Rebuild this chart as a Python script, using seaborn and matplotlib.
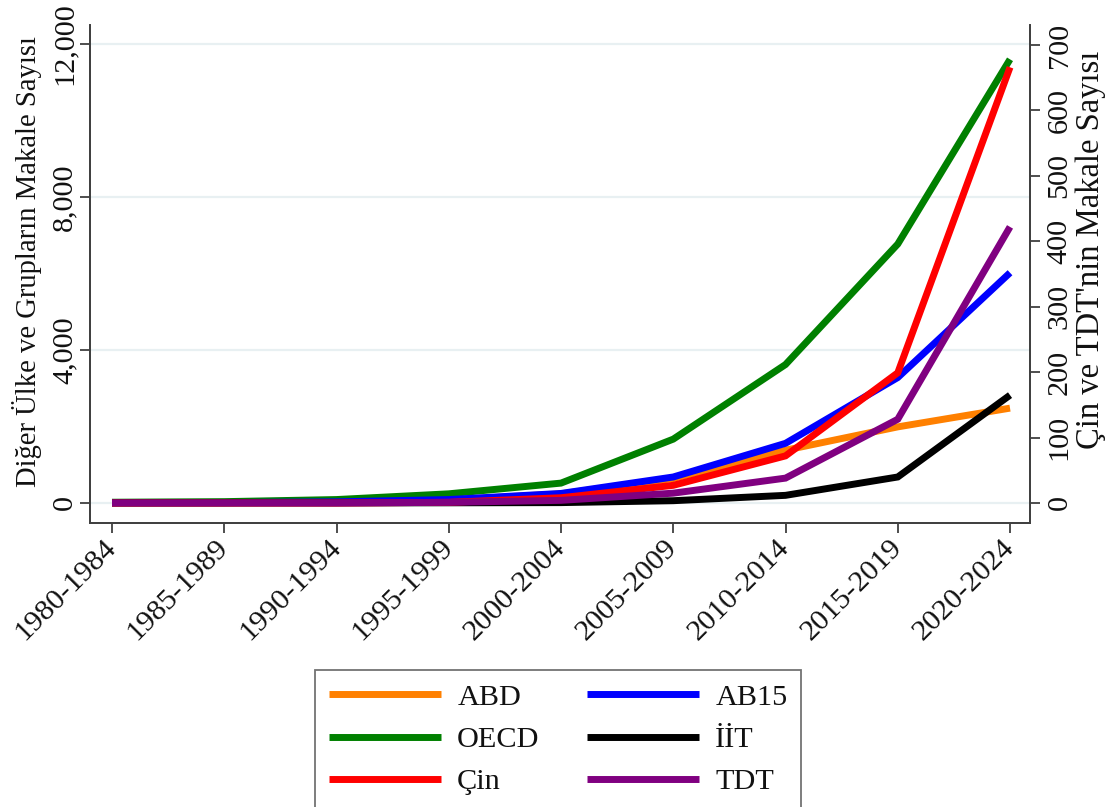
import numpy as np
import pandas as pd
import matplotlib
matplotlib.use("Agg")
import matplotlib.pyplot as plt
import seaborn as sns
from matplotlib.ticker import FuncFormatter

# ---- data ----
periods = ["1980-1984", "1985-1989", "1990-1994", "1995-1999", "2000-2004",
           "2005-2009", "2010-2014", "2015-2019", "2020-2024"]
abd = [5, 10, 25, 80, 240, 640, 1380, 1990, 2480]
oecd = [20, 35, 90, 240, 520, 1670, 3620, 6770, 11600]
ab15 = [5, 10, 30, 90, 250, 680, 1560, 3280, 6020]
iit = [0, 0, 2, 5, 10, 60, 200, 680, 2820]
cin = [0, 0, 0, 1, 8, 27, 72, 199, 666]      # right axis
tdt = [0, 0, 0, 1, 4, 15, 38, 128, 422]      # right axis

left_ticks = [0, 4000, 8000, 12000]
right_ticks = [0, 100, 200, 300, 400, 500, 600, 700]

sns.set_theme(style="white")
plt.rcParams["font.family"] = ["Liberation Serif", "DejaVu Serif"]
plt.rcParams["lines.solid_capstyle"] = "butt"
plt.rcParams["lines.solid_joinstyle"] = "miter"

FS = 21.8
TXT = "#111111"
fig = plt.figure(figsize=(11.13, 8.07), dpi=100)
ax = fig.add_axes([90 / 1113, 1 - 523 / 807, 940 / 1113, (523 - 25) / 807])
ax2 = ax.twinx()

x = np.arange(len(periods))
LW = 5.0
left_series = [("ABD", abd, "#FF8000"), ("OECD", oecd, "#008000"),
               ("AB15", ab15, "#0000FF"), ("İİT", iit, "#000000")]
right_series = [("Çin", cin, "#FF0000"), ("TDT", tdt, "#800080")]

handles = {}
for name, vals, col in left_series:
    sns.lineplot(x=x, y=vals, ax=ax, color=col, linewidth=LW, label=name, legend=False)
    handles[name] = ax.lines[-1]
for name, vals, col in right_series:
    sns.lineplot(x=x, y=vals, ax=ax2, color=col, linewidth=LW, label=name, legend=False)
    handles[name] = ax2.lines[-1]
for ln in ax.lines + ax2.lines:
    ln.set_solid_capstyle("butt")
    ln.set_solid_joinstyle("miter")

# axes limits
ax.set_xlim(-0.196, 8.178)
ax.set_ylim(-523, 12497)
ax2.set_ylim(-30.6, 730.6)

ax.set_yticks(left_ticks)
ax.yaxis.set_major_formatter(FuncFormatter(lambda v, p: f"{int(v):,}"))
ax.grid(axis="y", color="#e8f0f2", linewidth=1.6)
ax.grid(axis="x", visible=False)
ax2.grid(False)
ax2.set_yticks(right_ticks)

ax.set_xticks(x)
ax.set_xticklabels(periods, rotation=45, ha="right", va="center",
                   rotation_mode="anchor", fontsize=FS)
for lab in ax.get_yticklabels() + ax2.get_yticklabels():
    lab.set_rotation(90)
    lab.set_va("center")
    lab.set_fontsize(FS)

spine_col = "#404040"
for a in (ax, ax2):
    a.spines["top"].set_visible(False)
    for s in ("left", "right", "bottom"):
        a.spines[s].set_color(spine_col)
        a.spines[s].set_linewidth(1.3)
ax.tick_params(axis="both", direction="out", length=7, width=1.3, color=spine_col, colors=TXT)
ax.tick_params(axis="y", left=True, pad=2)
ax.tick_params(axis="x", bottom=True, pad=8)
ax2.tick_params(axis="y", right=True, direction="out", length=7, width=1.3,
                color=spine_col, labelcolor=TXT, pad=5)

ax.set_ylabel("Diğer Ülke ve Grupların Makale Sayısı", fontsize=20.6, color=TXT)
ax2.set_ylabel("Çin ve TDT'nin Makale Sayısı", fontsize=23.5, color=TXT)
ax.yaxis.set_label_coords((42 - 90) / 940, (523 - 262) / 498)
ax2.yaxis.set_label_coords((1075 - 90) / 940, (523 - 250) / 498)

order = ["ABD", "OECD", "Çin", "AB15", "İİT", "TDT"]
leg = fig.legend([handles[n] for n in order], order, ncol=2,
                 loc="upper center", bbox_to_anchor=(558 / 1113, 1 - 670 / 807),
                 fontsize=FS, frameon=True, fancybox=False, handlelength=3.7,
                 handletextpad=0.55, columnspacing=1.55, labelspacing=0.5,
                 borderpad=0.45, borderaxespad=0)
leg.get_frame().set_edgecolor("#505050")
leg.get_frame().set_linewidth(1.3)
for t in leg.get_texts():
    t.set_color(TXT)

fig.savefig("out.png", dpi=100)
